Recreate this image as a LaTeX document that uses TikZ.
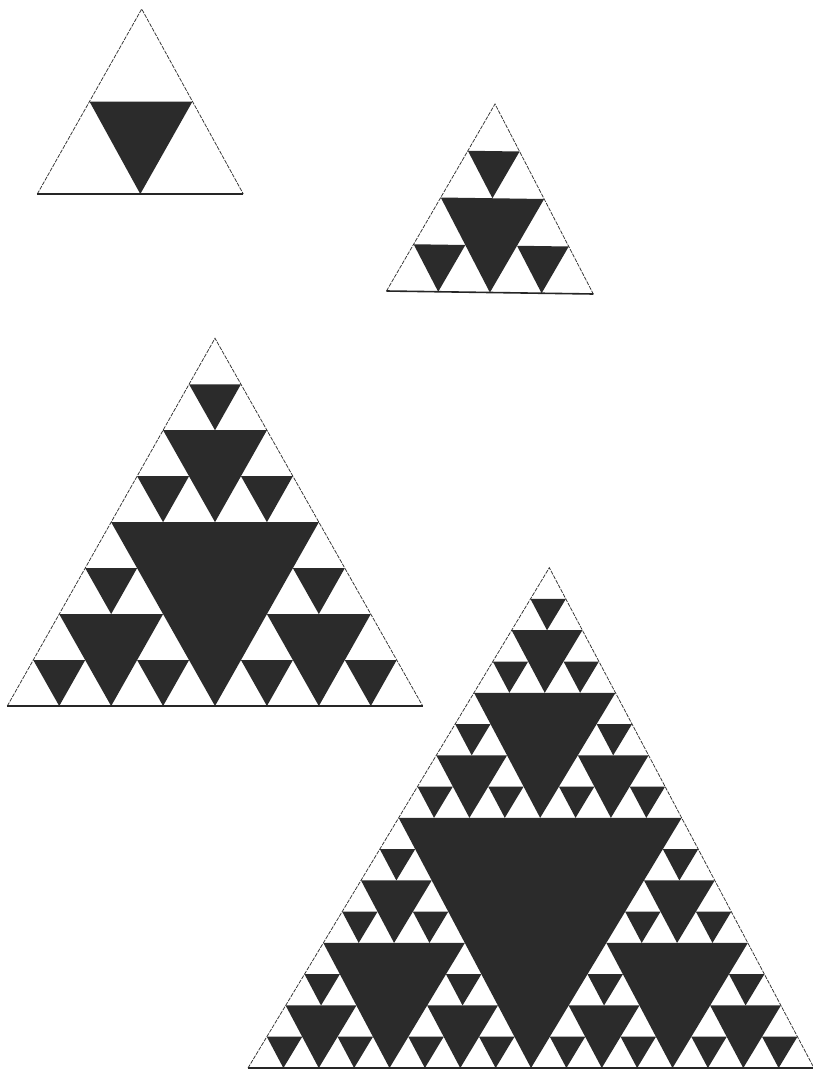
\documentclass[tikz,border=0pt]{standalone}
\newcommand\sierpfill[1]{%
  \ifnum#1>0
    \fill[darktri] (0.5,0) -- (0,0.5) -- (0.5,0.5) -- cycle;
    \begin{scope}[scale=0.5]\sierpfill{\numexpr#1-1\relax}\end{scope}
    \begin{scope}[shift={(0.5,0)},scale=0.5]\sierpfill{\numexpr#1-1\relax}\end{scope}
    \begin{scope}[shift={(0,0.5)},scale=0.5]\sierpfill{\numexpr#1-1\relax}\end{scope}
  \fi}
\newcommand\sierpoutline{%
  \draw[edgeline] (0,0) -- (0,1) -- (1,0);
  \draw[baseline] (0,0) -- (1,0);}
\begin{document}
\begin{tikzpicture}[x=1pt,y=-1pt,
  darktri/.style={fill=black!83},
  edgeline/.style={draw=black!80,line width=0.75pt,line join=miter,dash pattern=on 4pt off 1.2pt},
  baseline/.style={draw=black!85,line width=1.6pt}]
\fill[white] (0,0) rectangle (813,1084);
\useasboundingbox (0,0) rectangle (813,1084);
% level 1
\begin{scope}[shift={(37.3,194)},x={(206pt,0pt)},y={(104.4pt,185pt)}]
  \sierpfill{1}\sierpoutline
\end{scope}
% level 2
\begin{scope}[shift={(386.5,291)},x={(206.8pt,-3pt)},y={(108.5pt,187pt)}]
  \sierpfill{2}\sierpoutline
\end{scope}
% level 3
\begin{scope}[shift={(7.3,706)},x={(415.4pt,0pt)},y={(207.7pt,367.7pt)}]
  \sierpfill{3}\sierpoutline
\end{scope}
% level 4
\begin{scope}[shift={(248,1068)},x={(566pt,0pt)},y={(301.3pt,500.3pt)}]
  \sierpfill{4}\sierpoutline
\end{scope}
\end{tikzpicture}
\end{document}
